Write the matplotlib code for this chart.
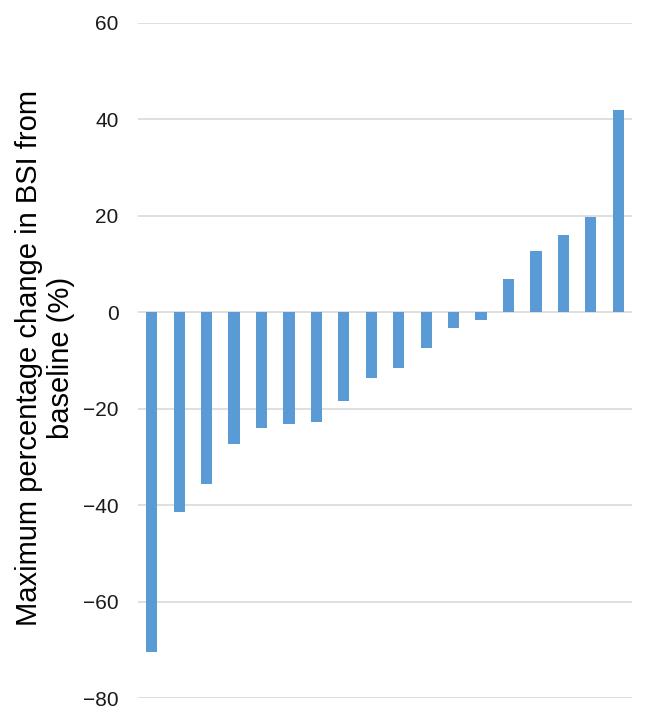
import matplotlib
matplotlib.use("Agg")
import matplotlib.pyplot as plt

plt.rcParams['font.family'] = ['Liberation Sans', 'DejaVu Sans']

values = [-70.4, -41.4, -35.6, -27.3, -23.9, -23.1, -22.8, -18.5, -13.6,
          -11.6, -7.5, -3.2, -1.7, 6.9, 12.7, 16.0, 19.8, 41.9]
yticks = [-80, -60, -40, -20, 0, 20, 40, 60]
ylabel = "Maximum percentage change in BSI from\nbaseline (%)"

fig = plt.figure(figsize=(6.57, 7.21), dpi=100)
ax = fig.add_axes([138/657, 1-698/721, (632-138)/657, (698-23)/721])

x = list(range(len(values)))
ax.bar(x, values, width=0.41, color='#5b9bd5', zorder=3)
ax.set_xlim(-0.5, len(values) - 0.5)
ax.set_ylim(-80, 60)
ax.set_yticks(yticks)
ax.set_yticklabels([str(t).replace('-', '\u2212') for t in yticks])
ax.yaxis.grid(True, color='#d9d9d9', linewidth=1.2, zorder=0)
ax.set_xticks([])
ax.tick_params(axis='y', length=0, pad=14, labelsize=15, labelcolor='#1a1a1a')
for s in ax.spines.values():
    s.set_visible(False)

fig.text(45/657, 1-358/721, ylabel, rotation=90, ha='center', va='center',
         multialignment='center', fontsize=21, color='black', linespacing=1.15)

fig.savefig('out.png', dpi=100)
